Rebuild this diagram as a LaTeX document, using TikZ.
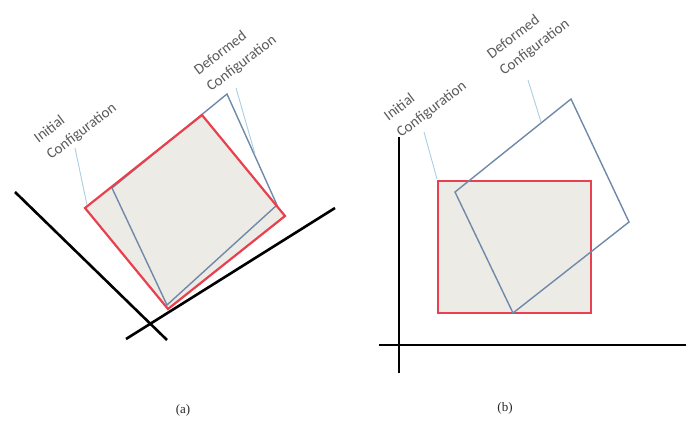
\documentclass[tikz,border=0pt]{standalone}
\usepackage{fontspec}
\newfontfamily\lblfont{Carlito}
\newfontfamily\capfont{Liberation Serif}
\definecolor{redc}{HTML}{E8404E}
\definecolor{bluec}{HTML}{7089A8}
\definecolor{beigec}{HTML}{EDEBE5}
\definecolor{leadc}{HTML}{A9CFE0}
\definecolor{txtc}{HTML}{5A5A5A}
\begin{document}
\begin{tikzpicture}[x=1pt,y=-1pt,
  lbl/.style={font=\lblfont\fontsize{15}{21}\selectfont, text=txtc, rotate=37, align=left, anchor=base west, inner sep=0pt},
  axisline/.style={line width=2.6pt, black},
  initbox/.style={draw=redc, line width=2.2pt, line join=miter},
  defbox/.style={draw=bluec, line width=1.4pt},
  leader/.style={draw=leadc, line width=0.9pt},
  captext/.style={font=\capfont\fontsize{13}{15}\selectfont, text=black!85, inner sep=0pt}]
\useasboundingbox (0,0) rectangle (692,420);
% ---------- panel (a)
\coordinate (aA1) at (15,192); \coordinate (aA2) at (167,340);
\coordinate (aB1) at (126,339); \coordinate (aB2) at (335,208);
\draw[axisline] (aA1) -- (aA2);
\draw[axisline] (aB1) -- (aB2);
\coordinate (aR1) at (85,208); \coordinate (aR2) at (202,115);
\coordinate (aR3) at (285,216); \coordinate (aR4) at (168,309);
\coordinate (aD1) at (112,188); \coordinate (aD2) at (227,94);
\coordinate (aD3) at (277,205); \coordinate (aD4) at (167,305);
\fill[beigec] (aR1) -- (aR2) -- (aR3) -- (aR4) -- cycle;
\draw[defbox] (aD1) -- (aD2) -- (aD3) -- (aD4) -- cycle;
\draw[initbox] (aR1) -- (aR2) -- (aR3) -- (aR4) -- cycle;
% base west of a two-line node is the start of its last line
\node[lbl] (aI) at (51,160) {Initial\\Configuration};
\node[lbl] (aF) at (211,92) {Deformed\\Configuration};
\coordinate (aLI) at (75,148); \coordinate (aLIe) at (87,205);
\coordinate (aLD) at (236,88); \coordinate (aLDe) at (255,154);
\draw[leader] (aLI) -- (aLIe);
\draw[leader] (aLD) -- (aLDe);
\node[captext] (capa) at (183,410) {(a)};
% ---------- panel (b)
\coordinate (bA1) at (399,137); \coordinate (bA2) at (399,373);
\coordinate (bB1) at (379,345); \coordinate (bB2) at (686,345);
\draw[axisline] (bA1) -- (bA2);
\draw[axisline] (bB1) -- (bB2);
\coordinate (bR1) at (438,181); \coordinate (bR2) at (591,181);
\coordinate (bR3) at (591,313); \coordinate (bR4) at (438,313);
\coordinate (bD1) at (455,192); \coordinate (bD2) at (571,99);
\coordinate (bD3) at (629,222); \coordinate (bD4) at (513,313);
\fill[beigec] (bR1) -- (bR2) -- (bR3) -- (bR4) -- cycle;
\draw[initbox] (bR1) -- (bR2) -- (bR3) -- (bR4) -- cycle;
\draw[defbox] (bD1) -- (bD2) -- (bD3) -- (bD4) -- cycle;
\node[lbl] (bI) at (401,138) {Initial\\Configuration};
\node[lbl] (bF) at (504,76) {Deformed\\Configuration};
\coordinate (bLI) at (424,132); \coordinate (bLIe) at (437,179);
\coordinate (bLD) at (528,80); \coordinate (bLDe) at (541,122);
\draw[leader] (bLI) -- (bLIe);
\draw[leader] (bLD) -- (bLDe);
\node[captext] (capb) at (505,408) {(b)};
\end{tikzpicture}
\end{document}
